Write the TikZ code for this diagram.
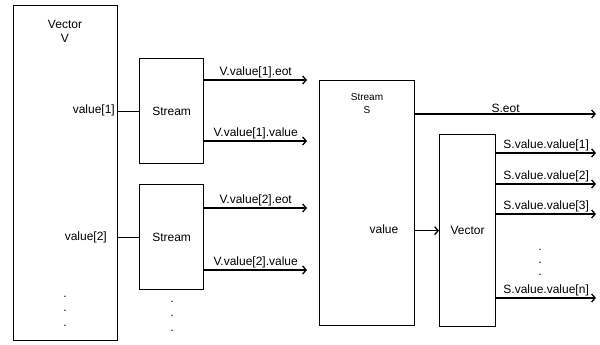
\documentclass[tikz,border=0pt]{standalone}
\usepackage{fontspec}
\setmainfont{Liberation Sans}
\usetikzlibrary{arrows.meta, positioning}

\begin{document}
\begin{tikzpicture}[x=1pt, y=-1pt,
    blk/.style={draw, line width=1.3pt, inner sep=0pt, anchor=north west,
        font=\fontsize{12}{14}\selectfont},
    lbl/.style={inner sep=1pt, font=\fontsize{12}{14}\selectfont},
    dotlbl/.style={inner sep=0pt, anchor=base, font=\fontsize{12}{14}\selectfont},
    arr/.style={line width=1.3pt, -{Straight Barb[length=3.5pt, width=8pt]}}]
        \useasboundingbox (0,0) rectangle (600,345);

        % vector V and its two streams
        \node[blk, minimum width=104pt, minimum height=335pt] (vecV) at (13,5) {};
        \node[lbl, align=center] (vecVlbl) at (65,31) {Vector\\V};
        \node[lbl, anchor=east] (val1) at (116,110) {value[1]};
        \node[lbl, anchor=east] (val2) at (108,237) {value[2]};

        \node[blk, minimum width=64pt, minimum height=105pt] (st1) at (139,58) {Stream};
        \node[blk, minimum width=64pt, minimum height=105pt] (st2) at (139,184) {Stream};

        \draw[line width=1.3pt] (st1.west -| vecV.east) -- (st1.west);
        \draw[line width=1.3pt] (st2.west -| vecV.east) -- (st2.west);

        % stream outputs
        \coordinate (eot1) at (307,80);
        \coordinate (out1) at (307,141);
        \coordinate (eot2) at (307,208);
        \coordinate (out2) at (307,270);
        \draw[arr] (st1.east |- eot1) -- (eot1) node[lbl, midway, above] {V.value[1].eot};
        \draw[arr] (st1.east |- out1) -- (out1) node[lbl, midway, above] {V.value[1].value};
        \draw[arr] (st2.east |- eot2) -- (eot2) node[lbl, midway, above] {V.value[2].eot};
        \draw[arr] (st2.east |- out2) -- (out2) node[lbl, midway, above] {V.value[2].value};

        % stream S and its vector
        \node[blk, minimum width=95pt, minimum height=245pt] (stS) at (319,80) {};
        \node[lbl, align=center, font=\fontsize{10}{13}\selectfont] (stSlbl) at (367,104) {Stream\\S};
        \node[lbl] (valS) at (384,229) {value};
        \node[blk, minimum width=56pt, minimum height=192pt] (vecS) at (439,134) {Vector};

        \coordinate (seot) at (596,114);
        \draw[arr] (stS.east |- seot) -- (seot) node[lbl, midway, above] {S.eot};
        \draw[arr] (stS.east |- vecS.west) -- (vecS.west);

        \foreach \i/\y in {1/153, 2/184, 3/214, n/298} {
            \coordinate (sv\i) at (596,\y);
            \draw[arr] (vecS.east |- sv\i) -- (sv\i) node[lbl, midway, above] {S.value.value[\i]};
        }

        % dots
        \foreach \i/\y in {1/297, 2/311, 3/326} {
            \node[dotlbl] (vdot\i) at (65,\y) {.};
            \node[dotlbl] (sdot\i) at (172,\y+5) {.};
        }
        \foreach \i/\y in {1/250, 2/263, 3/275} {
            \node[dotlbl] (odot\i) at (540,\y) {.};
        }
\end{tikzpicture}
\end{document}
